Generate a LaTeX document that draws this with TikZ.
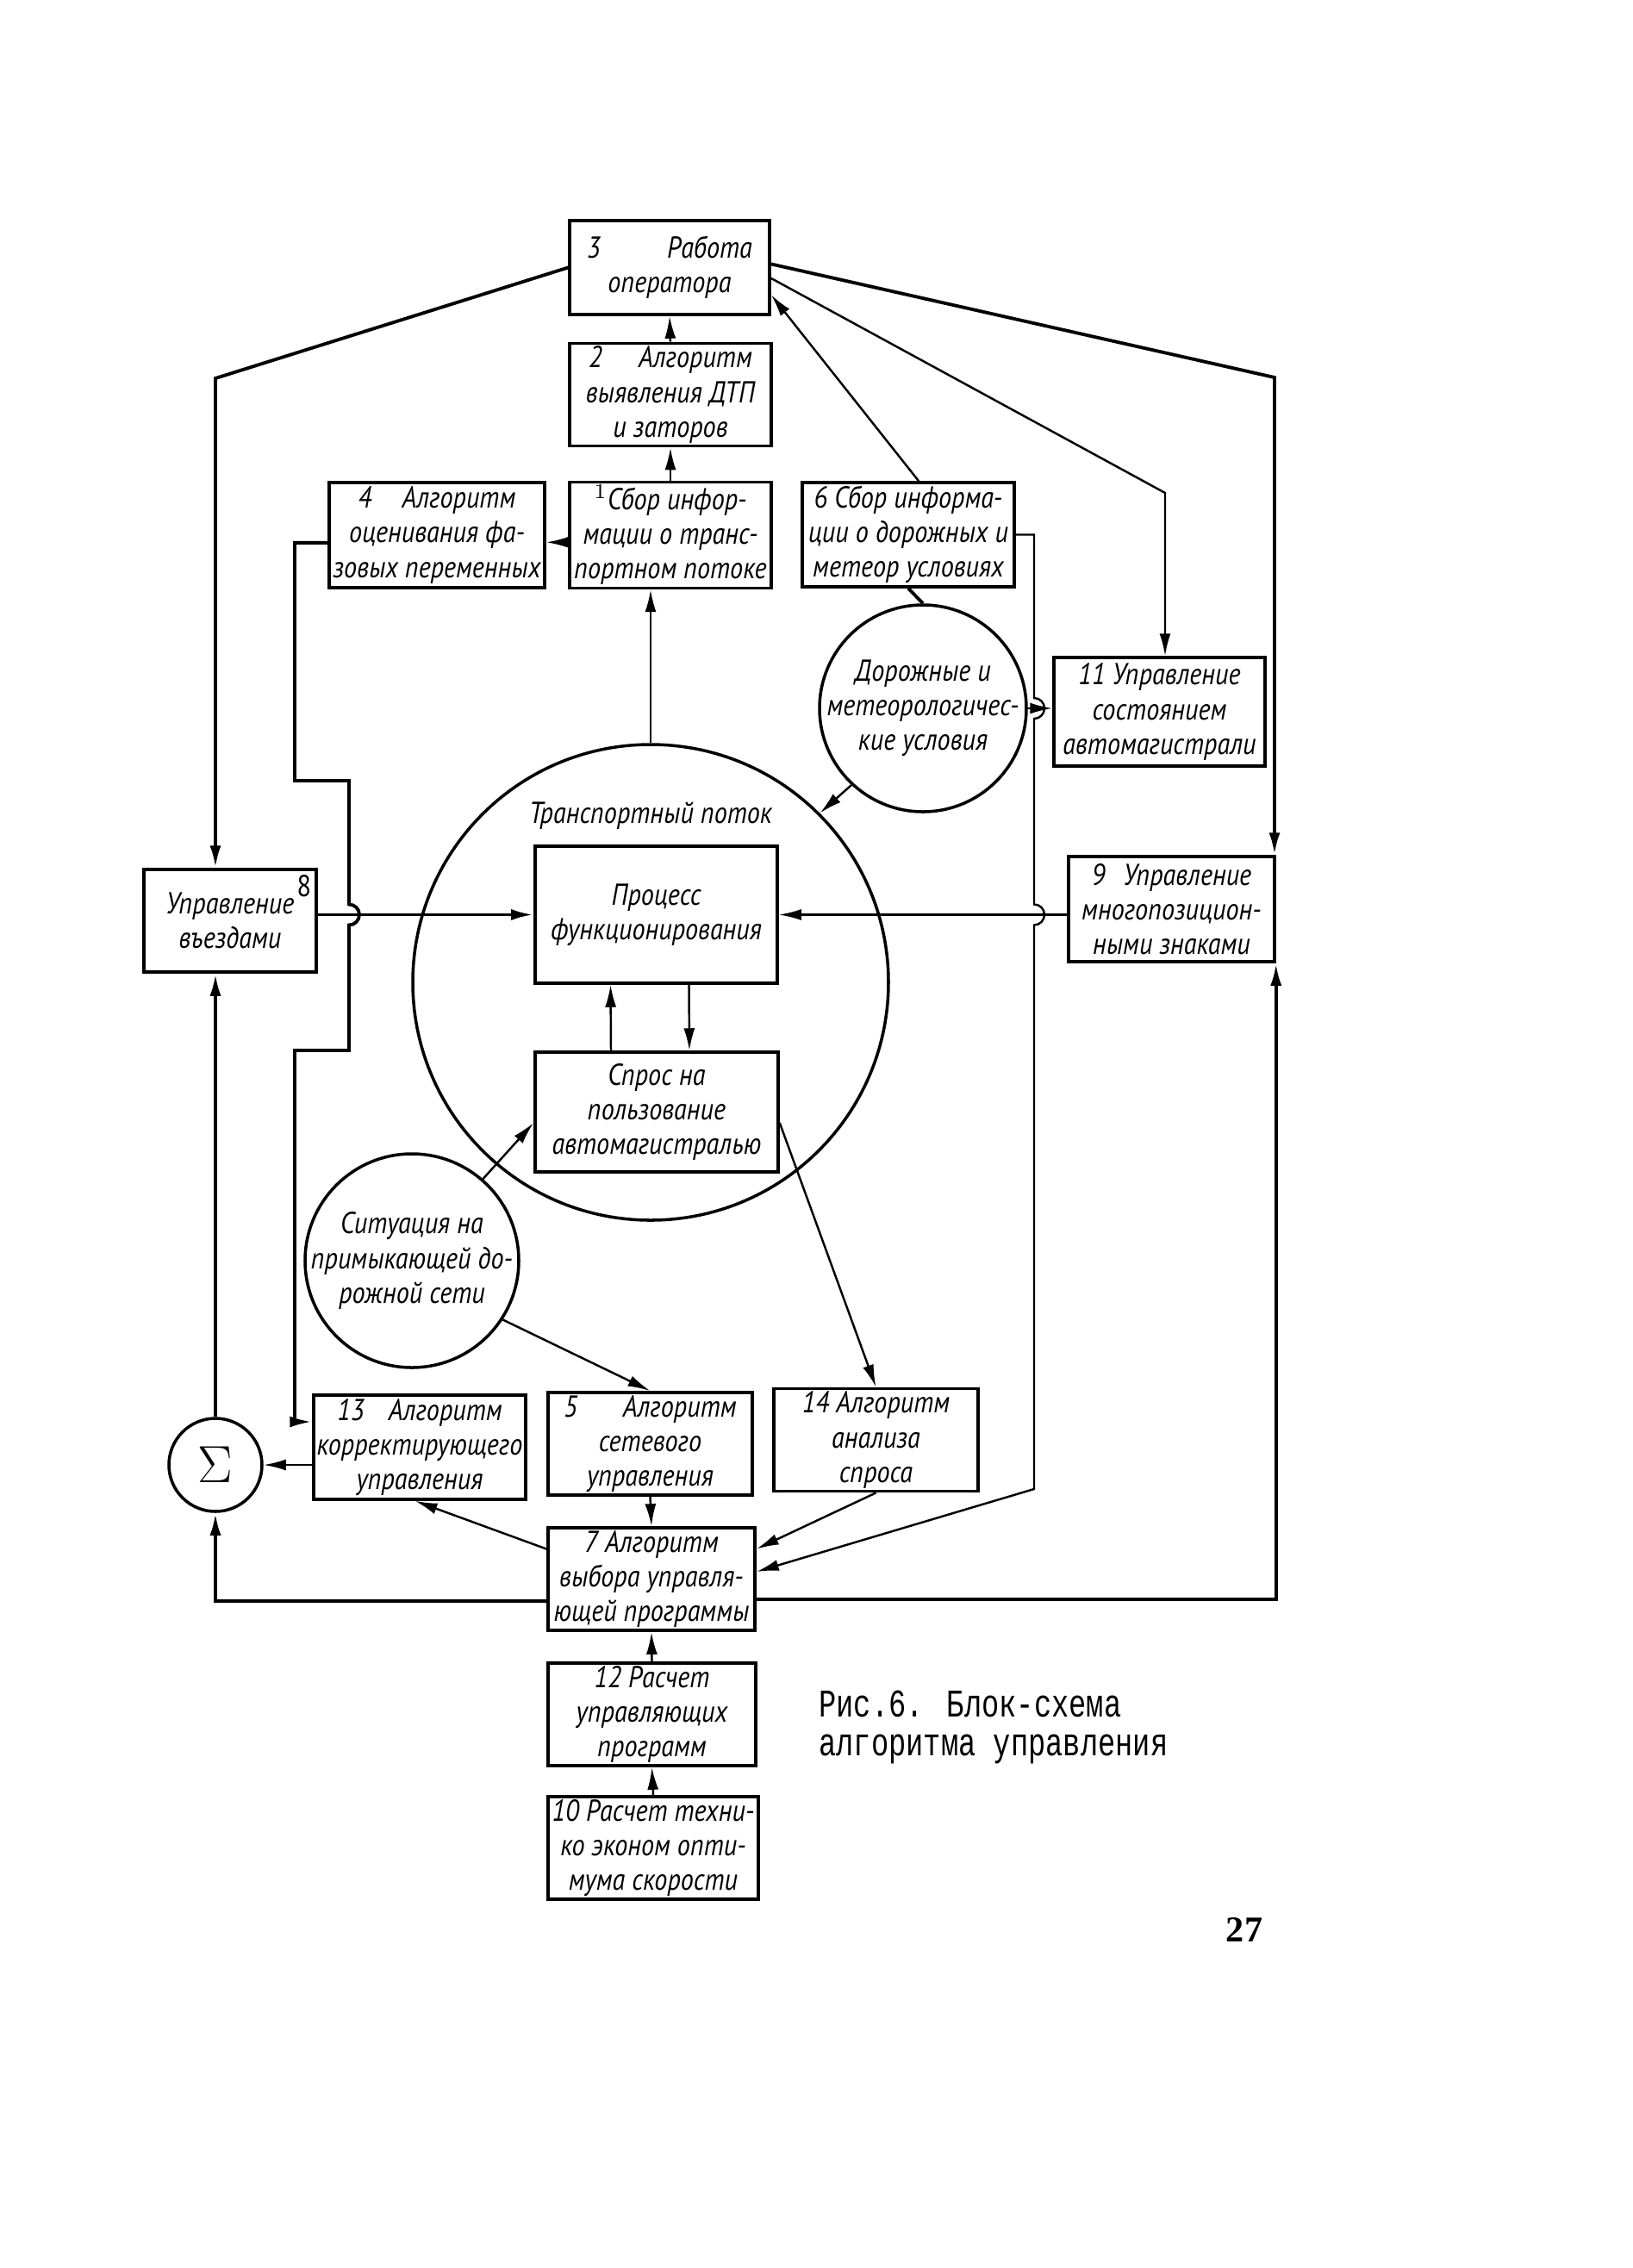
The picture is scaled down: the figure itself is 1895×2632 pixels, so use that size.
\documentclass[tikz,border=0pt]{standalone}
\usepackage{fontspec}
\newfontfamily\handfont{PT Sans}[FakeStretch=0.86]
\newfontfamily\typefont{Liberation Mono}
\newfontfamily\pagefont{Liberation Serif}
\usetikzlibrary{arrows.meta}

\tikzset{
  blockBox/.style={rectangle, draw=black, line width=1pt, align=center, inner sep=1pt,
    font=\handfont\itshape\fontsize{10}{11.4}\selectfont},
  roundBox/.style={circle, draw=black, line width=1pt, inner sep=0pt},
  handText/.style={align=center, font=\handfont\itshape\fontsize{10}{11.4}\selectfont},
  thickLine/.style={line width=1.1pt},
  thinLine/.style={line width=0.7pt}
}

\begin{document}
\begin{tikzpicture}[x=0.1mm, y=-0.1mm, >={Latex[length=2.6mm,width=1.3mm]}]
	\useasboundingbox (0,0) rectangle (1895,2632);

	% upper column
	\node[blockBox, minimum width=23.2mm, minimum height=10.9mm](op3Box) at (777,310.5){3\hspace{2.2em}Работа\\оператора};
	\node[blockBox, minimum width=23.4mm, minimum height=11.8mm](dtp2Box) at (778,458){2\hspace{1.2em}Алгоритм\\выявления ДТП\\и заторов};
	\node[blockBox, minimum width=23.4mm, minimum height=12.2mm](flow1Box) at (778,621){$^1$Сбор инфор-\\мации о транс-\\портном потоке};
	\node[blockBox, minimum width=25mm, minimum height=12.2mm](phase4Box) at (507,621){4\hspace{1em}Алгоритм\\оценивания фа-\\зовых переменных};
	\node[blockBox, minimum width=24.6mm, minimum height=12.1mm](meteo6Box) at (1054,620.5){6 Сбор информа-\\ции о дорожных и\\метеор условиях};
	\node[blockBox, minimum width=24.5mm, minimum height=12.6mm](highway11Box) at (1345.5,826){11 Управление\\состоянием\\автомагистрали};

	% circles
	\node[roundBox, minimum size=24mm, label={[handText, anchor=center]center:{Дорожные и\\метеорологичес-\\кие условия}}](meteoCirc) at (1071,822){};
	\node[roundBox, minimum size=55.2mm, label={[handText, anchor=north, yshift=-5.6mm]north:{Транспортный поток}}](flowCirc) at (755,1140){};
	\node[roundBox, minimum size=24.8mm, label={[handText, anchor=center]center:{Ситуация на\\примыкающей до-\\рожной сети}}](netCirc) at (478,1463){};
	\node[roundBox, minimum size=10.8mm, font=\fontsize{17}{17}\selectfont](sumCirc) at (250,1700){$\Sigma$};

	% middle row
	\node[blockBox, minimum width=20mm, minimum height=11.9mm, label={[anchor=north east, inner sep=2pt, font=\handfont\fontsize{10}{10}\selectfont]north east:8}](entry8Box) at (267,1068.5){Управление\hspace{0.6em}\\въездами};
	\node[blockBox, minimum width=23.9mm, minimum height=12.2mm](signs9Box) at (1359.5,1055){9\hspace{0.6em}Управление\\многопозицион-\\ными знаками};
	\node[blockBox, minimum width=28.1mm, minimum height=15.9mm](processBox) at (761.5,1061.5){Процесс\\функционирования};
	\node[blockBox, minimum width=28.2mm, minimum height=13.9mm](demandBox) at (762,1290.5){Спрос на\\пользование\\автомагистралью};

	% lower column
	\node[blockBox, minimum width=24.4mm, minimum height=12.1mm](corr13Box) at (487,1679.5){13\hspace{0.8em}Алгоритм\\корректирующего\\управления};
	\node[blockBox, minimum width=23.7mm, minimum height=11.9mm](net5Box) at (754.5,1675.5){5\hspace{1.5em}Алгоритм\\сетевого\\управления};
	\node[blockBox, minimum width=23.7mm, minimum height=11.8mm](demand14Box) at (1016.5,1671){14 Алгоритм\\анализа\\спроса};
	\node[blockBox, minimum width=24mm, minimum height=11.3mm](choice7Box) at (756,1832.5){7 Алгоритм\\выбора управля-\\ющей программы};
	\node[blockBox, minimum width=24.1mm, minimum height=11.5mm](calc12Box) at (756.5,1989.5){12 Расчет\\управляющих\\программ};
	\node[blockBox, minimum width=24.4mm, minimum height=11.9mm](optim10Box) at (758,2144.5){10 Расчет техни-\\ко эконом опти-\\мума скорости};

	% caption and page number
	\node[anchor=west, font=\typefont\fontsize{9.6}{9.6}\selectfont](capTop) at (938,1977){\scalebox{1}[1.35]{Рис.6. Блок-схема}};
	\node[anchor=west, font=\typefont\fontsize{9.6}{9.6}\selectfont](capBottom) at (938,2030){\scalebox{1}[1.35]{алгоритма управления}};
	\node[font=\pagefont\bfseries\fontsize{12}{12}\selectfont](pageNo) at (1444,2240){27};

	% bend points
	\coordinate (kL) at (250,439);
	\coordinate (kR) at (1479,438);
	\coordinate (k11) at (1352,572);
	\coordinate (k4a) at (342,906);
	\coordinate (k4b) at (405,906);
	\coordinate (k4c) at (405,1219);
	\coordinate (k4d) at (342,1219);
	\coordinate (k4e) at (342,1650);
	\coordinate (k6a) at (1200,620.5);
	\coordinate (k6b) at (1200,1728);

	% operator links
	\draw[->, thinLine] (dtp2Box.north) -- (op3Box.south);
	\draw[->, thinLine] (flow1Box.north) -- (dtp2Box.south);
	\draw[->, thinLine] (flow1Box.184) -- (flow1Box.184 -| phase4Box.east);
	\draw[->, thinLine] (meteo6Box.79) -- (op3Box.-15);
	\draw[->, thinLine] (op3Box.-6) -- (k11) -- (k11 |- highway11Box.north);
	\draw[->, thickLine] (op3Box.2) -- (kR) -- (kR |- signs9Box.north);
	\draw[->, thickLine] (op3Box.west) -- (kL) -- (kL |- entry8Box.north);
	\draw[->, thinLine] (flowCirc.north) -- (flowCirc.north |- flow1Box.south);

	% phase estimate to correction
	\draw[->, thickLine] (phase4Box.184) -| (k4a) -- (k4b) -- (405,1049.5) arc[start angle=-90, end angle=90, radius=12] -- (k4c) -- (k4d) -- (k4e) -- (corr13Box.west |- k4e);

	% road conditions
	\draw[thickLine] (meteo6Box.south) -- (meteoCirc.north);
	\draw[->, thinLine] (meteoCirc.east) -- (meteoCirc.east -| highway11Box.west);
	\draw[->, thinLine] (meteoCirc.227) -- (flowCirc.45);
	\draw[->, thinLine] (meteo6Box.east) -- (k6a) -- (1200,810) arc[start angle=-90, end angle=90, radius=12] -- (1200,1049.5) arc[start angle=-90, end angle=90, radius=12] -- (k6b) -- (choice7Box.4);

	% inside the traffic flow
	\draw[->, thickLine] (entry8Box.east |- processBox.west) -- (processBox.west);
	\draw[->, thinLine] (signs9Box.west |- processBox.east) -- (processBox.east);
	\draw[->, thinLine] ([xshift=-5.3mm]demandBox.north) -- ([xshift=-5.3mm]processBox.south);
	\draw[->, thinLine] ([xshift=3.8mm]processBox.south) -- ([xshift=3.8mm]demandBox.north);
	\draw[->, thinLine] (netCirc.49) -- (demandBox.185);
	\draw[->, thinLine] (netCirc.-33) -- (net5Box.north);
	\draw[->, thinLine] (demandBox.-5) -- (demand14Box.north);

	% choice of program
	\draw[->, thinLine] (net5Box.south) -- (choice7Box.north);
	\draw[->, thinLine] (demand14Box.south) -- (choice7Box.16);
	\draw[->, thinLine] (choice7Box.164) -- (corr13Box.265);
	\draw[->, thinLine] (calc12Box.north) -- (choice7Box.south);
	\draw[->, thinLine] (optim10Box.north) -- (calc12Box.south);
	\draw[->, thinLine] (corr13Box.west |- sumCirc.east) -- (sumCirc.east);
	\draw[->, thickLine] (sumCirc.north) -- (sumCirc.north |- entry8Box.south);
	\draw[->, thickLine] (choice7Box.192) -| (sumCirc.south);
	\draw[->, thickLine] (choice7Box.-11) -| (signs9Box.south east);
\end{tikzpicture}
\end{document}
